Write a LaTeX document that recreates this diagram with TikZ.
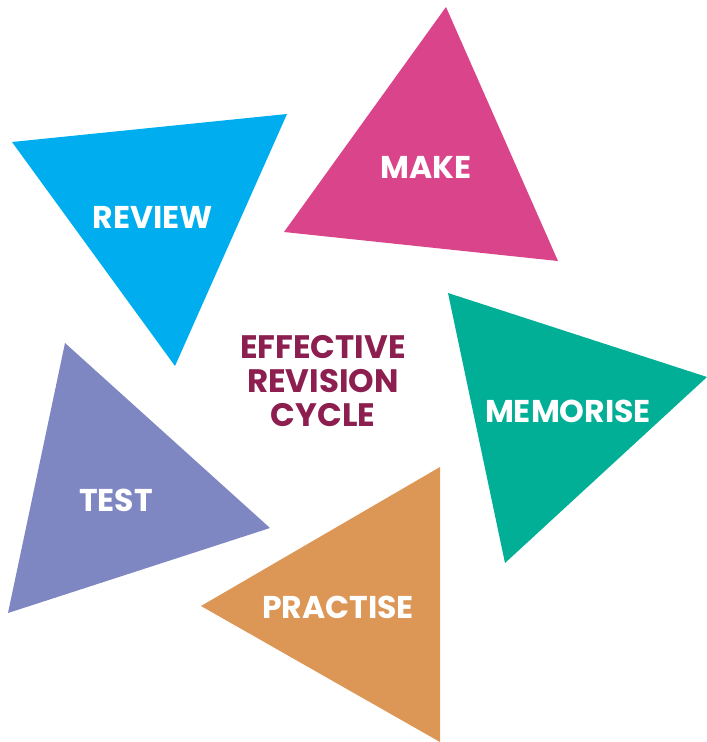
\documentclass[tikz,border=0pt]{standalone}
\usepackage{fontspec}
\setmainfont{Poppins}
\definecolor{makepink}{HTML}{D9448A}
\definecolor{reviewblue}{HTML}{00ADEE}
\definecolor{memoteal}{HTML}{00AF96}
\definecolor{testlilac}{HTML}{7F87C3}
\definecolor{practorange}{HTML}{DC9655}
\definecolor{cyclered}{HTML}{8C1F4F}
\tikzset{
  steplabel/.style={text=white, font=\fontsize{31.5}{36}\selectfont\bfseries},
  title/.style={text=cyclered, align=center, font=\fontsize{32.5}{34}\selectfont\bfseries}
}
\begin{document}
\begin{tikzpicture}[x=1pt, y=-1pt]
\useasboundingbox (0,0) rectangle (707,742);
\fill[makepink](446,7)--(284,232)--(558,261)--cycle;
\fill[reviewblue](12,142)--(287,114)--(175,366)--cycle;
\fill[memoteal](448,293)--(707,377)--(505,563)--cycle;
\fill[testlilac](65,343)--(270,528)--(8,613)--cycle;
\fill[practorange](440,467)--(440,742)--(201,606)--cycle;

\node[steplabel] (make) at (426,167) {MAKE};
\node[steplabel] (review) at (153,217) {REVIEW};
\node[steplabel] (memorise) at (568,411) {MEMORISE};
\node[steplabel] (test) at (116,500) {TEST};
\node[steplabel] (practise) at (338,607) {PRACTISE};
\node[title] (cycle) at (323,381) {EFFECTIVE\\REVISION\\CYCLE};
\end{tikzpicture}
\end{document}
